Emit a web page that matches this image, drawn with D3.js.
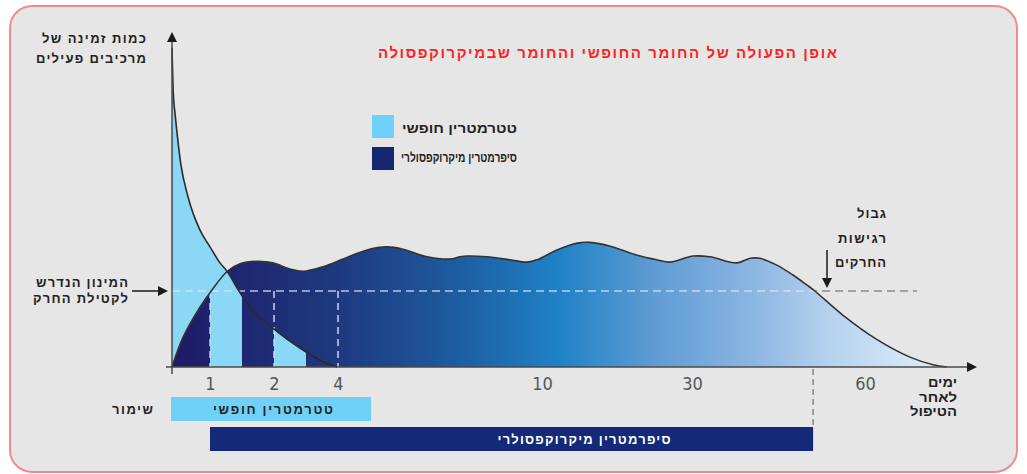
<!DOCTYPE html>
<html>
<head>
<meta charset="utf-8">
<script src="https://cdn.jsdelivr.net/npm/d3@7"></script>
<style>
  html, body { margin: 0; padding: 0; background: #fff; }
  svg { display: block; }
  .heb { font-family: "Liberation Sans", "DejaVu Sans", sans-serif; font-weight: bold; }
</style>
</head>
<body>
<div id="chart"></div>
<script>
// axis ticks (days after treatment)
const tickDays = [1, 2, 4, 10, 30, 60]

// free tetramethrin, level relative to the lethal minimum (1 = threshold)
const freeDays  = [0, 0.034, 0.079, 0.124, 0.229, 0.421, 0.737, 1.0, 1.156, 1.266, 1.453, 1.625, 2.03, 2.81, 3.44, 3.97]
const freeLevel = [4.2, 3.6, 3.34, 3.12, 2.68, 2.24, 1.80, 1.58, 1.37, 1.26, 1.0, 0.79, 0.49, 0.25, 0.09, 0]

// microencapsulated cypermethrin
const microDays  = [0, 0.29, 0.74, 1.02, 1.27, 1.47, 1.73, 1.98, 2.5, 2.91, 3.53, 4.15, 4.85, 5.44, 5.91, 6.62, 7.29, 7.59, 7.79, 8.38, 9.06, 9.56, 9.85, 12.0, 14.7, 16.4, 19.1, 22.7, 25.3, 27.1, 30.2, 33.1, 37.8, 40.1, 41.8, 44.7, 47.5, 49.9, 51.3, 56.2, 62.1, 67.8, 71.8, 74.2]
const microLevel = [0, 0.39, 0.79, 1.0, 1.26, 1.36, 1.39, 1.37, 1.29, 1.26, 1.32, 1.42, 1.54, 1.58, 1.55, 1.45, 1.42, 1.45, 1.46, 1.45, 1.41, 1.38, 1.41, 1.54, 1.63, 1.64, 1.59, 1.47, 1.41, 1.38, 1.46, 1.45, 1.37, 1.43, 1.43, 1.34, 1.21, 1.08, 1.0, 0.68, 0.36, 0.13, 0.03, 0]

const threshold = 1
const freeBands = [[1, 1.5], [2, 3]]
const guideDays = [1, 2, 4]
const protectionEnd = 51
const thresholdEnd = 69

const titleText = 'אופן הפעולה של החומר החופשי והחומר שבמיקרוקפסולה'
const legendLabels = ['טטרמטרין חופשי', 'סיפרמטרין מיקרוקפסולרי']
const legendColors = ['#6fd1f7', '#15286f']
const barLabels = ['טטרמטרין חופשי', 'סיפרמטרין מיקרוקפסולרי']
const barSpans = [[0, 5], [1, protectionEnd]]
const yLabel = ['כמות זמינה של', 'מרכיבים פעילים']
const thresholdLabel = ['המינון הנדרש', 'לקטילת החרק']
const limitLabel = ['גבול', 'רגישות', 'החרקים']
const xLabel = ['ימים', 'לאחר', 'הטיפול']
const keepLabel = 'שימור'

const W = 1027, H = 474

const svg = d3.select('#chart').append('svg').attr('width', W).attr('height', H)

svg.append('rect').attr('x', 10).attr('y', 6).attr('width', 1007).attr('height', 466)
    .attr('rx', 22).attr('fill', '#e6e6e6').attr('stroke', '#f28b8b').attr('stroke-width', 2)

const x = d3.scaleLinear().domain([0, 1, 2, 4, 10, 30, 60, 75]).range([172, 210, 274, 338, 542, 692, 865, 951.5])
const y = d3.scaleLinear().domain([0, threshold]).range([367, 291])

const free = freeDays.map((d, i) => [d, freeLevel[i]])
const micro = microDays.map((d, i) => [d, microLevel[i]])

const freeArea = d3.area().x(d => x(d[0])).y0(y(0)).y1(d => y(d[1])).curve(d3.curveMonotoneX)
const freeLine = d3.line().x(d => x(d[0])).y(d => y(d[1])).curve(d3.curveMonotoneX)
const microArea = d3.area().x(d => x(d[0])).y0(y(0)).y1(d => y(d[1])).curve(d3.curveCatmullRom)
const microLine = d3.line().x(d => x(d[0])).y(d => y(d[1])).curve(d3.curveCatmullRom)

const defs = svg.append('defs')
const grad = defs.append('linearGradient').attr('id', 'microGrad')
    .attr('gradientUnits', 'userSpaceOnUse').attr('x1', x(0)).attr('x2', x(74.2)).attr('y1', 0).attr('y2', 0)
const stops = [[0, '#1f1a66'], [0.22, '#1e3a80'], [0.36, '#1d5a9e'], [0.5, '#1f82c6'], [0.62, '#5e9bd3'], [0.75, '#8cb6e2'], [0.85, '#b6d2ee'], [1, '#e2f1fb']]
grad.selectAll('stop').data(stops).join('stop').attr('offset', d => d[0]).attr('stop-color', d => d[1])

defs.append('clipPath').attr('id', 'bandClip').selectAll('rect').data(freeBands).join('rect')
    .attr('x', d => x(d[0])).attr('width', d => x(d[1]) - x(d[0])).attr('y', 0).attr('height', H)

const areaClip = defs.append('clipPath').attr('id', 'areaClip')
areaClip.append('path').attr('d', freeArea(free))
areaClip.append('path').attr('d', microArea(micro))

// grey threshold line (visible outside the filled areas)
svg.append('line').attr('x1', x(0)).attr('x2', x(thresholdEnd)).attr('y1', y(threshold)).attr('y2', y(threshold))
    .attr('stroke', '#8c8c8c').attr('stroke-width', 1.6).attr('stroke-dasharray', '8,5')

svg.append('path').attr('d', freeArea(free)).attr('fill', '#8ad7f6')
svg.append('path').attr('d', microArea(micro)).attr('fill', 'url(#microGrad)')
svg.append('path').attr('d', freeArea(free)).attr('fill', '#8ad7f6').attr('clip-path', 'url(#bandClip)')

// light threshold line inside the areas
svg.append('line').attr('x1', x(0)).attr('x2', x(thresholdEnd)).attr('y1', y(threshold)).attr('y2', y(threshold))
    .attr('stroke', '#dce6f2').attr('stroke-opacity', 0.8).attr('stroke-width', 1.6).attr('stroke-dasharray', '8,5')
    .attr('clip-path', 'url(#areaClip)')

svg.selectAll('.guide').data(guideDays).join('line').attr('class', 'guide')
    .attr('x1', d => x(d)).attr('x2', d => x(d)).attr('y1', y(threshold)).attr('y2', y(0))
    .attr('stroke', '#dce6f2').attr('stroke-opacity', 0.85).attr('stroke-width', 1.6).attr('stroke-dasharray', '7,5')

svg.append('path').attr('d', freeLine(free)).attr('fill', 'none').attr('stroke', '#2b2b2b').attr('stroke-width', 1.6)
svg.append('path').attr('d', microLine(micro)).attr('fill', 'none').attr('stroke', '#333').attr('stroke-width', 1.6)

// end of protection marker below the axis
svg.append('line').attr('x1', x(protectionEnd)).attr('x2', x(protectionEnd)).attr('y1', y(0) + 2).attr('y2', 426)
    .attr('stroke', '#777').attr('stroke-width', 1.3).attr('stroke-dasharray', '6,4')

// axes
const xAxis = svg.append('g').attr('transform', `translate(0,${y(0)})`)
    .call(d3.axisBottom(x).tickValues(tickDays).tickSize(0).tickPadding(10))
xAxis.select('.domain').remove()
xAxis.selectAll('text').attr('font-family', '"Liberation Sans Narrow", "DejaVu Sans Condensed", sans-serif')
    .attr('font-size', 18).attr('fill', '#555')

const axisColor = '#4a4a4a'
svg.append('line').attr('x1', 166).attr('x2', 968).attr('y1', y(0)).attr('y2', y(0)).attr('stroke', axisColor).attr('stroke-width', 1.5)
svg.append('line').attr('x1', x(0)).attr('x2', x(0)).attr('y1', y(0) + 7).attr('y2', 40).attr('stroke', axisColor).attr('stroke-width', 1.5)
const tri = (px, py, dir) => {
    const s = 5, l = 10
    let pts
    if (dir === 'up') pts = [[px, py], [px - s, py + l], [px + s, py + l]]
    if (dir === 'right') pts = [[px, py], [px - l, py - s], [px - l, py + s]]
    if (dir === 'down') pts = [[px, py], [px - s, py - l], [px + s, py - l]]
    svg.append('path').attr('d', d3.line()(pts) + 'Z').attr('fill', '#1a1a1a')
}
tri(x(0), 32, 'up')
tri(977, y(0), 'right')

// threshold pointer arrow
svg.append('line').attr('x1', 132).attr('x2', 159).attr('y1', y(threshold)).attr('y2', y(threshold)).attr('stroke', '#1a1a1a').attr('stroke-width', 1.5)
tri(168, y(threshold), 'right')

// sensitivity limit arrow
svg.append('line').attr('x1', 827).attr('x2', 827).attr('y1', 250).attr('y2', 279).attr('stroke', '#1a1a1a').attr('stroke-width', 1.5)
tri(827, 288, 'down')

// texts, each fitted to the width it takes in the picture
const heb = (txt, px, py, size, anchor, len, color, squeeze) => svg.append('text').attr('class', 'heb')
    .attr('x', px).attr('y', py).attr('font-size', size).attr('text-anchor', anchor).attr('fill', color || '#222')
    .attr('textLength', len).attr('lengthAdjust', squeeze ? 'spacingAndGlyphs' : 'spacing').text(txt)

heb(titleText, 607.5, 58, 15, 'middle', 459, '#ff1f1f')
const yLabelW = [104, 110], thrW = [92, 95], limW = [29, 48, 51], xLabW = [29, 38, 47]
yLabel.forEach((t, i) => heb(t, 146, 43 + i * 20, 13, 'end', yLabelW[i]))
thresholdLabel.forEach((t, i) => heb(t, 128, 287 + i * 16, 13, 'end', thrW[i]))
limitLabel.forEach((t, i) => heb(t, 886, 218 + i * 24.5, 13, 'end', limW[i]))
xLabel.forEach((t, i) => heb(t, 957, 387 + i * 14.5, 13, 'end', xLabW[i], '#222', true))

const legW = [115, 116]
legendLabels.forEach((t, i) => {
    svg.append('rect').attr('x', 372).attr('y', 115 + i * 32).attr('width', 22).attr('height', 23).attr('fill', legendColors[i])
    heb(t, 517, 133 + i * 29, 13, 'end', legW[i], '#222', true)
})

const barY = [397, 427]
barSpans.forEach((s, i) => {
    svg.append('rect').attr('x', x(s[0]) - (i === 0 ? 1 : 0)).attr('y', barY[i]).attr('width', x(s[1]) - x(s[0]))
        .attr('height', 24).attr('fill', i === 1 ? '#142a78' : '#6fd1f7')
})
heb(barLabels[0], 273, 414, 13, 'middle', 120)
heb(barLabels[1], 584, 444, 13, 'middle', 173, '#fff')
heb(keepLabel, 153, 414, 13, 'end', 41)
</script>
</body>
</html>
